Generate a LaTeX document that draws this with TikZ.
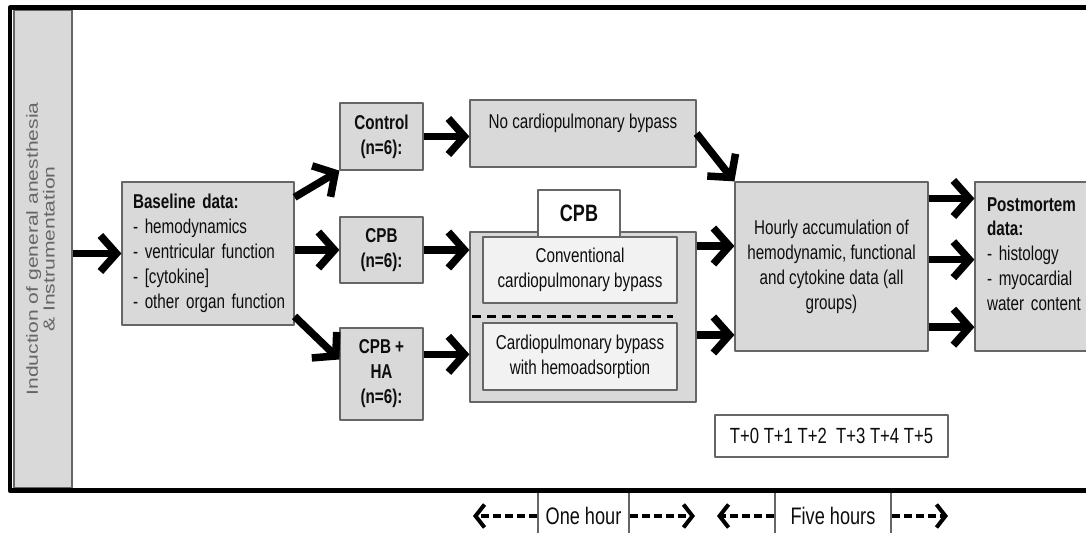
\documentclass[tikz,border=0pt]{standalone}
\usepackage{fontspec}
\setmainfont{Liberation Sans}[FakeStretch=0.76]
\newfontfamily\barfont{Liberation Sans}
\usetikzlibrary{arrows.meta}

\begin{document}
\begin{tikzpicture}[x=0.02cm, y=-0.02cm, line join=round,
    font=\fontsize{11.4}{14.2}\selectfont,
    box/.style={draw=black!60, line width=0.7pt, fill=gray!30, text=black!95, inner sep=0pt, align=center},
    inbox/.style={box, fill=gray!10},
    wbox/.style={box, fill=white},
    arr/.style={line width=0.15cm, -{Straight Barb[length=0.32cm, width=0.72cm]}},
    darr/.style={line width=0.08cm, dash pattern=on 0.16cm off 0.08cm, -{Straight Barb[length=0.18cm, width=0.46cm]}},
    divider/.style={line width=0.06cm, dash pattern=on 0.18cm off 0.12cm}]
    \useasboundingbox (0,0) rectangle (1086,533);
    \clip (0,0) rectangle (1086,533);

    % left bar and baseline
    \node[box, minimum width=1.16cm, minimum height=9.56cm, text=black!60] (induct) at (43,249)
        {\barfont\fontsize{12}{12.5}\selectfont\rotatebox{90}{\scalebox{1}[0.76]{\begin{tabular}{@{}c@{}}Induction of general anesthesia\\ \& Instrumentation\end{tabular}}}};
    \node[box, minimum width=3.44cm, minimum height=2.86cm, align=left, text width=3.0cm] (base) at (208,253.5)
        {\textbf{Baseline data:}\\- hemodynamics\\- ventricular function\\- [cytokine]\\\mbox{- other organ function}};

    % groups
    \node[box, minimum width=1.66cm, minimum height=1.34cm, font=\bfseries\fontsize{11.4}{14.2}\selectfont] (ctrl) at (381.5,136.5) {Control\\(n=6):};
    \node[box, minimum width=1.66cm, minimum height=1.32cm, font=\bfseries\fontsize{11.4}{14.2}\selectfont] (cpb) at (381.5,250) {CPB\\(n=6):};
    \node[box, minimum width=1.66cm, minimum height=1.84cm, font=\bfseries\fontsize{11.4}{14.2}\selectfont] (cpbha) at (381.5,374) {CPB +\\HA\\(n=6):};

    % interventions
    \node[box, minimum width=4.52cm, minimum height=1.34cm] (nocpb) at (583,133.5) {No cardiopulmonary bypass\\ \mbox{}};
    \node[box, minimum width=4.52cm, minimum height=3.40cm] (grp) at (583,317) {};
    \node[inbox, minimum width=3.88cm, minimum height=1.32cm] (conv) at (580,270) {Conventional\\cardiopulmonary bypass};
    \node[inbox, minimum width=3.88cm, minimum height=1.34cm] (hemo) at (580,356.5) {Cardiopulmonary bypass\\with hemoadsorption};
    \node[wbox, minimum width=1.64cm, minimum height=0.94cm, font=\bfseries\fontsize{13.5}{16}\selectfont] (cpblab) at (579,213.5) {CPB};
    \draw[divider] (472,317) -- (673,317);

    % data collection
    \node[box, minimum width=3.86cm, minimum height=3.38cm] (hourly) at (831.5,266.5)
        {Hourly accumulation of\\hemodynamic, functional\\and cytokine data (all\\groups)};
    \node[box, minimum width=2.5cm, minimum height=3.38cm, align=left, text width=2.02cm] (post) at (1037.5,266.5)
        {\textbf{Postmortem}\\\textbf{data:}\\- histology\\- myocardial\\water content\\ \mbox{}};
    \node[wbox, minimum width=4.66cm, minimum height=0.84cm, font=\fontsize{12.5}{15}\selectfont] (tbox) at (831.5,436)
        {T+0 T+1 T+2~ T+3 T+4 T+5};

    % arrows
    \draw[arr] (induct.east |- base.west) -- (base.west);
    \draw[arr] (base.33) -- (ctrl.south west);
    \draw[arr] (base.east |- cpb.west) -- (cpb.west);
    \draw[arr] (base.-36) -- (cpbha.161);
    \draw[arr] (ctrl.east) -- (ctrl.east -| nocpb.west);
    \draw[arr] (cpb.east) -- (cpb.east -| grp.west);
    \draw[arr] (cpbha.25) -- (cpbha.25 -| grp.west);
    \draw[arr] (nocpb.east) -- (hourly.north west);
    \draw[arr] (grp.32) -- (grp.32 -| hourly.west);
    \draw[arr] (grp.-9) -- (grp.-9 -| hourly.west);
    \foreach \a in {35,4,-32}
        \draw[arr] (hourly.\a) -- (hourly.\a -| post.west);

    % time spans
    \node[wbox, minimum width=1.82cm, minimum height=1.0cm, font=\fontsize{13.6}{16}\selectfont] (onehr) at (583.5,516) {One hour};
    \node[wbox, minimum width=2.32cm, minimum height=1.0cm, font=\fontsize{13.6}{16}\selectfont] (fivehr) at (833,516) {Five hours};
    \coordinate (oneL) at (473,516);
    \coordinate (oneR) at (695,516);
    \coordinate (fiveL) at (717,516);
    \coordinate (fiveR) at (948,516);
    \draw[darr] (onehr.west) -- (oneL);
    \draw[darr] (onehr.east) -- (oneR);
    \draw[darr] (fivehr.west) -- (fiveL);
    \draw[darr] (fivehr.east) -- (fiveR);

    % frame
    \draw[line width=0.1cm] (1100,8) -- (10,8) -- (10,490.5) -- (1100,490.5);
\end{tikzpicture}
\end{document}
